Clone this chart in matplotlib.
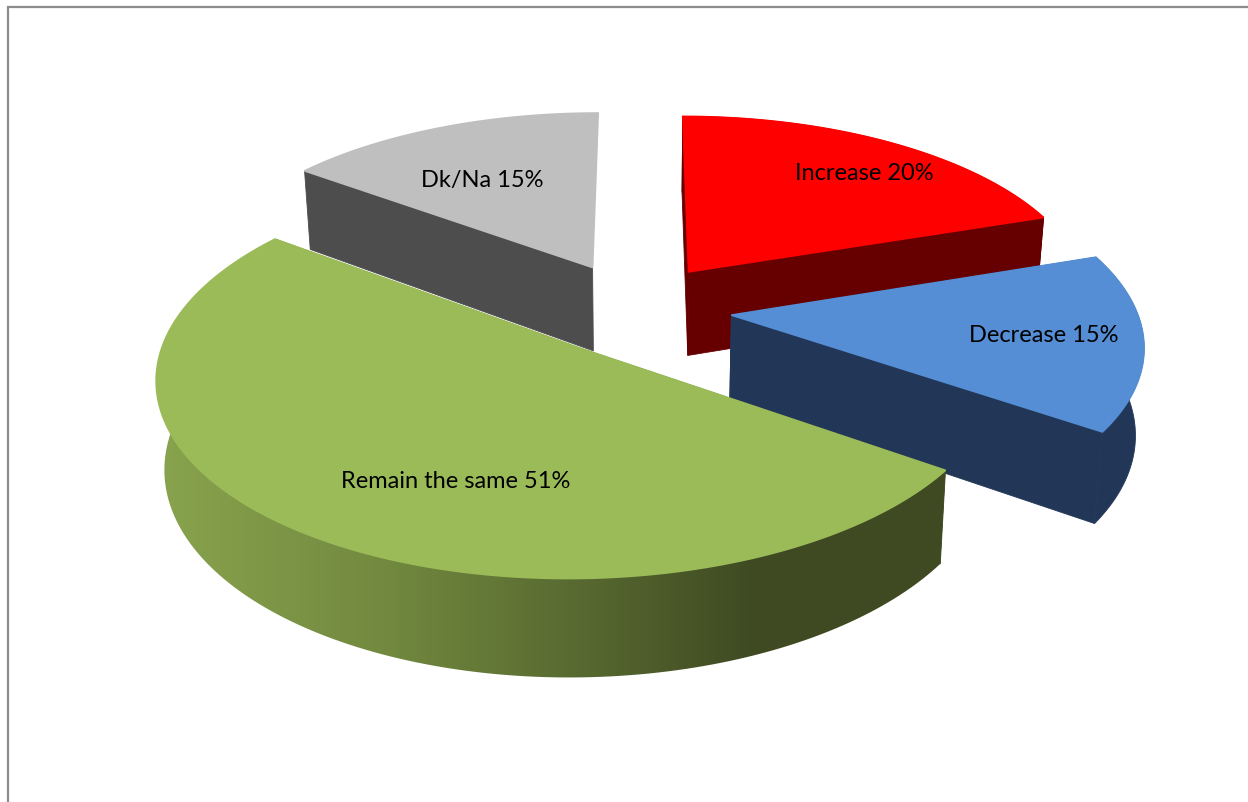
"""Exploded 3D-look pie chart, drawn from the slice shares with plain polygons."""

import numpy as np
import matplotlib
matplotlib.use("Agg")
import matplotlib.pyplot as plt
from matplotlib.colors import LinearSegmentedColormap
from matplotlib.patches import Polygon

# ── Data ──────────────────────────────────────────────────────────────────────
categories = ["Increase", "Decrease", "Remain the same", "Dk/Na"]
shares = [20, 15, 51, 15]

# ── Style ─────────────────────────────────────────────────────────────────────
TOP_COLORS = ["#FF0000", "#558ED5", "#9BBB59", "#BFBFBF"]
SIDE_COLORS = ["#660000", "#223757", "#3F4A22", "#4D4D4D"]
EXPLODE = [(50, 85), (91, -11), (-60, -79), (-49, 95)]
LABEL_AT = [(864, 174), (1044, 336), (456, 482), (482, 181)]
DRAW_ORDER = [3, 0, 1, 2]

W, H = 1248, 802
XC, YC = 640, 310
RADIUS = 405
TILT = 0.462
PERSP = 0.14


def project(wx, wy):
    s = 1 / (1 + PERSP * wy / RADIUS)
    return XC + wx * s, YC - wy * TILT * s


def lower(x, y):
    # bottom face of the slab
    return XC + (x - XC) * 0.983, y * 1.05 + 70


def slice_outline(start, stop, offset):
    th = np.radians(np.linspace(start, stop, 160))
    return project(offset[0] + RADIUS * np.sin(th), offset[1] + RADIUS * np.cos(th))


fig = plt.figure(figsize=(W / 100, H / 100), dpi=100, facecolor="white")
ax = fig.add_axes([0, 0, 1, 1])
ax.set_xlim(0, W)
ax.set_ylim(H, 0)
ax.axis("off")

# chart frame, only top and left are in view
ax.plot([7.5, 7.5, W], [H, 6.5, 6.5], color="#8C8C8C", lw=1.6, solid_joinstyle="miter")

edges = np.concatenate([[0], np.cumsum(shares)]) / sum(shares) * 360
green_ramp = LinearSegmentedColormap.from_list(
    "green_side",
    [(0.0, "#89A44E"), (0.25, "#72893F"), (0.45, "#596B31"), (0.65, "#3F4A22"), (1.0, "#3F4A22")])

zorder = 2
for i in DRAW_ORDER:
    rim_x, rim_y = slice_outline(edges[i], edges[i + 1], EXPLODE[i])
    apex_x, apex_y = project(*EXPLODE[i])
    low_x, low_y = lower(rim_x, rim_y)
    low_ax, low_ay = lower(apex_x, apex_y)
    is_dk = categories[i] == "Dk/Na"

    # radial walls, the far wall of Dk/Na does not show
    for j in ((0,) if is_dk else (0, -1)):
        wall = [(apex_x, apex_y), (rim_x[j], rim_y[j]), (low_x[j], low_y[j]), (low_ax, low_ay)]
        ax.add_patch(Polygon(wall, fc=SIDE_COLORS[i], ec=SIDE_COLORS[i], lw=0.6, zorder=zorder))

    # outer wall
    rim = np.column_stack([np.r_[rim_x, low_x[::-1]], np.r_[rim_y, low_y[::-1]]])
    if categories[i] == "Remain the same":
        rim_patch = Polygon(rim, fc="none", ec="none", zorder=zorder)
        ax.add_patch(rim_patch)
        ramp = np.linspace(0, 1, 256).reshape(1, -1)
        img = ax.imshow(ramp, cmap=green_ramp, extent=(150, 1080, H, 0), aspect="auto",
                        zorder=zorder, interpolation="bilinear")
        img.set_clip_path(rim_patch)
        ax.set_xlim(0, W)
        ax.set_ylim(H, 0)
    elif not is_dk:
        ax.add_patch(Polygon(rim, fc=SIDE_COLORS[i], ec=SIDE_COLORS[i], lw=0.6, zorder=zorder))

    # top face
    top = np.column_stack([np.r_[apex_x, rim_x], np.r_[apex_y, rim_y]])
    ax.add_patch(Polygon(top, fc=TOP_COLORS[i], ec=TOP_COLORS[i], lw=1.2, zorder=zorder + 1))
    zorder += 2

# ── Labels ────────────────────────────────────────────────────────────────────
for name, pct, (lx, ly) in zip(categories, shares, LABEL_AT):
    ax.text(lx, ly, f"{name} {pct}%", ha="center", va="center",
            fontsize=17, family=["Lato", "DejaVu Sans"], color="black", zorder=50)

fig.savefig("out.png", dpi=100, facecolor="white")
